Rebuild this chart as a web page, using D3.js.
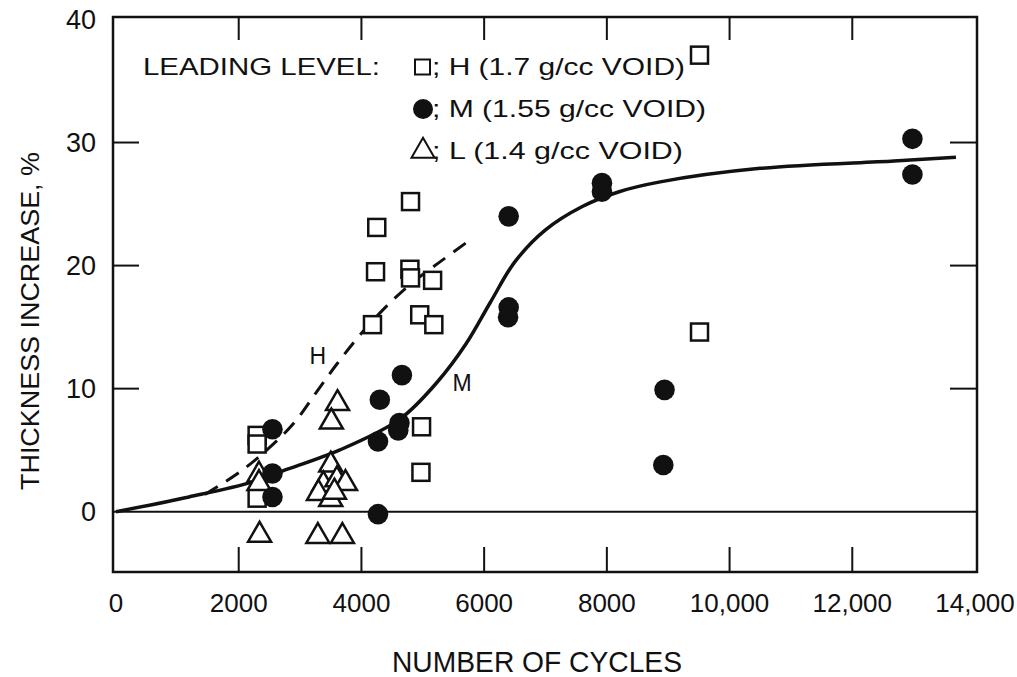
<!DOCTYPE html>
<html>
<head>
<meta charset="utf-8">
<script src="https://cdn.jsdelivr.net/npm/d3@7"></script>
<style>
  body { margin: 0; background: #fff; }
  svg { display: block; font-family: "Liberation Sans", Arial, sans-serif; }
</style>
</head>
<body>
<svg id="chart" width="1017" height="677"></svg>
<script>
"use strict";

// ticks
var xTicks = [0, 2000, 4000, 6000, 8000, 10000, 12000, 14000];
var xTickLabels = ["0", "2000", "4000", "6000", "8000", "10,000", "12,000", "14,000"];
var yTicks = [0, 10, 20, 30, 40];

// leading level H (open squares) : [cycles, thickness increase %]
var pointsH = [
  [2300, 6.2], [2300, 5.5], [2300, 1.1],
  [4800, 25.2], [4250, 23.1], [4230, 19.5], [4790, 19.7], [4800, 19.0],
  [5160, 18.8], [4180, 15.2], [4950, 16.0], [5180, 15.2],
  [4980, 6.9], [4970, 3.2], [9510, 14.6], [9510, 37.1]
];

// leading level M (filled circles)
var pointsM = [
  [2550, 6.7], [2550, 3.1], [2550, 1.2],
  [4300, 9.1], [4270, 5.7], [4270, -0.2],
  [4660, 11.1], [4620, 7.2], [4600, 6.6],
  [6400, 24.0], [6400, 16.6], [6390, 15.8],
  [7920, 26.7], [7920, 26.0],
  [8940, 9.9], [8920, 3.8],
  [12980, 30.3], [12980, 27.4]
];

// leading level L (open triangles)
var pointsL = [
  [3610, 8.8], [3510, 7.3],
  [2330, 3.0], [2330, 2.3],
  [3500, 3.8], [3380, 2.2], [3600, 2.6], [3740, 2.3],
  [3300, 1.5], [3500, 1.0], [3560, 1.6],
  [2340, -1.9], [3290, -2.0], [3690, -2.0]
];

// fitted curve M (solid)
var curveM = [
  [0, 0], [1190, 1.2], [2220, 2.4], [2710, 3.3], [3640, 5.0], [4620, 7.5],
  [5230, 10.5], [5700, 13.6], [6100, 17.0], [6500, 20.3], [7000, 22.9],
  [7600, 24.8], [8200, 26.0], [8870, 26.8], [10500, 27.9], [12680, 28.5], [13690, 28.8]
];

// fitted curve H (dashed)
var curveH = [
  [1450, 1.4], [2010, 3.2], [2500, 5.2], [2900, 7.2], [3250, 9.6], [3600, 12.0],
  [3950, 14.2], [4350, 16.4], [4800, 18.5], [5280, 20.3], [5720, 21.9]
];

var curveLabels = [
  { text: "H", x: 3290, y: 12.7 },
  { text: "M", x: 5640, y: 10.5 }
];

var legendRows = [
  { sym: "square", text: "; H (1.7 g/cc VOID)", len: 253 },
  { sym: "circle", text: "; M (1.55 g/cc VOID)", len: 274 },
  { sym: "triangle", text: "; L (1.4 g/cc VOID)", len: 251 }
];

var ink = "#111";
var svg = d3.select("#chart");

var box = { left: 113, right: 977, top: 17, bottom: 572 };

var x = d3.scaleLinear().domain([0, 14000]).range([116, 975]);
var y = d3.scaleLinear().domain([-4.9, 40.2]).range([572, 17]);

// frame
svg.append("rect")
  .attr("x", box.left)
  .attr("y", box.top)
  .attr("width", box.right - box.left)
  .attr("height", box.bottom - box.top)
  .attr("fill", "none")
  .attr("stroke", ink)
  .attr("stroke-width", 2.5);

// zero line
svg.append("line")
  .attr("x1", box.left).attr("x2", box.right)
  .attr("y1", y(0)).attr("y2", y(0))
  .attr("stroke", ink)
  .attr("stroke-width", 2);

var inner = xTicks.filter(function(d) { return d > 0 && d < 14000; });
var innerY = yTicks.filter(function(d) { return d > 0 && d < 40; });

// ticks, all pointing inwards
svg.append("g").selectAll("line")
  .data(inner).enter().append("line")
  .attr("x1", function(d) { return x(d); })
  .attr("x2", function(d) { return x(d); })
  .attr("y1", box.bottom).attr("y2", box.bottom - 25)
  .attr("stroke", ink).attr("stroke-width", 2);

svg.append("g").selectAll("line")
  .data(inner).enter().append("line")
  .attr("x1", function(d) { return x(d); })
  .attr("x2", function(d) { return x(d); })
  .attr("y1", box.top).attr("y2", box.top + 23)
  .attr("stroke", ink).attr("stroke-width", 2);

svg.append("g").selectAll("line")
  .data(innerY).enter().append("line")
  .attr("x1", box.left).attr("x2", box.left + 26)
  .attr("y1", function(d) { return y(d); })
  .attr("y2", function(d) { return y(d); })
  .attr("stroke", ink).attr("stroke-width", 2);

svg.append("g").selectAll("line")
  .data(innerY).enter().append("line")
  .attr("x1", box.right).attr("x2", box.right - 27)
  .attr("y1", function(d) { return y(d); })
  .attr("y2", function(d) { return y(d); })
  .attr("stroke", ink).attr("stroke-width", 2);

// tick labels
svg.append("g").selectAll("text")
  .data(xTicks).enter().append("text")
  .attr("x", function(d) { return x(d); })
  .attr("y", 612)
  .attr("text-anchor", "middle")
  .attr("font-size", 26)
  .attr("fill", ink)
  .text(function(d, i) { return xTickLabels[i]; });

svg.append("g").selectAll("text")
  .data(yTicks).enter().append("text")
  .attr("x", 96)
  .attr("y", function(d) { return y(d); })
  .attr("dy", "0.36em")
  .attr("text-anchor", "end")
  .attr("font-size", 27)
  .attr("fill", ink)
  .text(function(d) { return d; });

// axis titles
svg.append("text")
  .attr("x", 537).attr("y", 672)
  .attr("text-anchor", "middle")
  .attr("font-size", 29)
  .attr("textLength", 290)
  .attr("lengthAdjust", "spacingAndGlyphs")
  .attr("fill", ink)
  .text("NUMBER OF CYCLES");

svg.append("text")
  .attr("transform", "translate(39,321) rotate(-90)")
  .attr("text-anchor", "middle")
  .attr("font-size", 25)
  .attr("textLength", 338)
  .attr("lengthAdjust", "spacingAndGlyphs")
  .attr("fill", ink)
  .text("THICKNESS INCREASE, %");

// curves
var line = d3.line()
  .x(function(d) { return x(d[0]); })
  .y(function(d) { return y(d[1]); })
  .curve(d3.curveCatmullRom.alpha(0.5));

svg.append("path")
  .attr("d", line(curveM))
  .attr("fill", "none")
  .attr("stroke", ink)
  .attr("stroke-width", 3.5);

svg.append("path")
  .attr("d", line(curveH))
  .attr("fill", "none")
  .attr("stroke", ink)
  .attr("stroke-width", 3)
  .attr("stroke-dasharray", "15,10");

svg.append("g").selectAll("text")
  .data(curveLabels).enter().append("text")
  .attr("x", function(d) { return x(d.x); })
  .attr("y", function(d) { return y(d.y); })
  .attr("dy", "0.36em")
  .attr("text-anchor", "middle")
  .attr("font-size", 23)
  .attr("fill", ink)
  .text(function(d) { return d.text; });

// markers
var tri = d3.symbol().type(d3.symbolTriangle).size(229);

svg.append("g").selectAll("rect")
  .data(pointsH).enter().append("rect")
  .attr("x", function(d) { return x(d[0]) - 8.5; })
  .attr("y", function(d) { return y(d[1]) - 8.5; })
  .attr("width", 17).attr("height", 17)
  .attr("fill", "#fff")
  .attr("stroke", ink)
  .attr("stroke-width", 2.5);

svg.append("g").selectAll("path")
  .data(pointsL).enter().append("path")
  .attr("d", tri)
  .attr("transform", function(d) { return "translate(" + x(d[0]) + "," + y(d[1]) + ")"; })
  .attr("fill", "#fff")
  .attr("stroke", ink)
  .attr("stroke-width", 2.5);

svg.append("g").selectAll("circle")
  .data(pointsM).enter().append("circle")
  .attr("cx", function(d) { return x(d[0]); })
  .attr("cy", function(d) { return y(d[1]); })
  .attr("r", 10.3)
  .attr("fill", ink);

// legend
var legend = svg.append("g").attr("font-size", 24).attr("fill", ink);

legend.append("text")
  .attr("x", 143).attr("y", 75)
  .attr("textLength", 237)
  .attr("lengthAdjust", "spacingAndGlyphs")
  .text("LEADING LEVEL:");

legendRows.forEach(function(row, i) {
  var base = 75 + i * 42;
  var cy = base - 8;
  var g = legend.append("g");
  if (row.sym == "square") {
    g.append("rect")
      .attr("x", 415).attr("y", cy - 7.5)
      .attr("width", 15).attr("height", 15)
      .attr("fill", "#fff").attr("stroke", ink).attr("stroke-width", 2);
  } else if (row.sym == "circle") {
    g.append("circle")
      .attr("cx", 423).attr("cy", cy).attr("r", 10)
      .attr("fill", ink);
  } else {
    g.append("path")
      .attr("d", tri)
      .attr("transform", "translate(423," + cy + ")")
      .attr("fill", "#fff").attr("stroke", ink).attr("stroke-width", 2);
  }
  g.append("text")
    .attr("x", 432).attr("y", base)
    .attr("textLength", row.len)
    .attr("lengthAdjust", "spacingAndGlyphs")
    .text(row.text);
});
</script>
</body>
</html>
